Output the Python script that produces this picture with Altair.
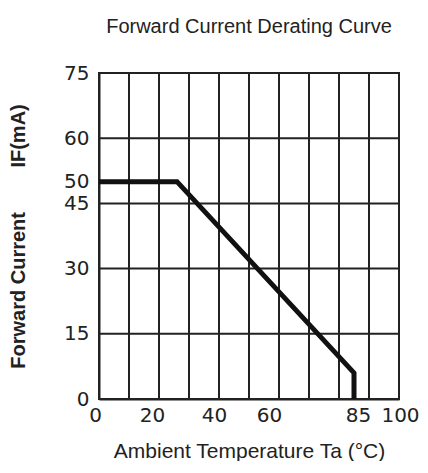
import altair as alt
import pandas as pd

# Data
temp = [0, 26, 85, 85]
current = [50, 50, 6, 0]
x_tick_labels = [0, 20, 40, 60, 85, 100]
y_tick_labels = [0, 15, 30, 45, 50, 60, 75]
x_grid = [0, 10, 20, 30, 40, 50, 60, 70, 80, 90, 100]
y_grid = [0, 15, 30, 45, 60, 75]

line_df = pd.DataFrame({"t": temp, "i": current})
vgrid_df = pd.DataFrame({"t": x_grid})
hgrid_df = pd.DataFrame({"i": y_grid})

xs = alt.Scale(domain=[0, 100], nice=False, zero=False)
ys = alt.Scale(domain=[0, 75], nice=False, zero=False)

FONT = "DejaVu Sans"
TFONT = "Liberation Sans"
TXT = "#222222"
NB = "\u00a0"

x_label_offset = {
    "condition": [
        {"test": "datum.value == 0", "value": -4},
        {"test": "datum.value == 20", "value": -7},
        {"test": "datum.value == 40", "value": -5},
        {"test": "datum.value == 60", "value": -10},
        {"test": "datum.value == 85", "value": 4},
        {"test": "datum.value == 100", "value": 1},
    ],
    "value": 0,
}

x_axis = alt.Axis(
    values=x_tick_labels, grid=False, ticks=False, domain=True,
    domainColor="#222", domainWidth=2,
    labelFont=FONT, labelFontSize=20, labelColor=TXT, labelPadding=6,
    labelOffset=x_label_offset, labelOverlap=False, labelBound=False,
    labelFlush=False,
    title="Ambient Temperature Ta (°C)", titleFont=TFONT,
    titleFontSize=21, titleFontWeight="normal", titleColor=TXT, titlePadding=15,
)
y_axis = alt.Axis(
    values=y_tick_labels, grid=False, ticks=False, domain=True,
    domainColor="#222", domainWidth=2,
    labelFont=FONT, labelFontSize=20, labelColor=TXT, labelPadding=10,
    labelOverlap=False, labelBound=False, labelFlush=False,
    title="Forward Current" + NB * 8 + "IF(mA)", titleFont=TFONT,
    titleFontSize=20, titleFontWeight="bold", titleColor=TXT, titlePadding=35,
)

vgrid = alt.Chart(vgrid_df).mark_rule(color="#222", strokeWidth=2).encode(
    x=alt.X("t:Q", scale=xs, axis=x_axis)
)
hgrid = alt.Chart(hgrid_df).mark_rule(color="#222", strokeWidth=2).encode(
    y=alt.Y("i:Q", scale=ys, axis=y_axis)
)
line = alt.Chart(line_df).mark_line(color="#111", strokeWidth=5, strokeJoin="miter").encode(
    x=alt.X("t:Q", scale=xs, axis=x_axis),
    y=alt.Y("i:Q", scale=ys, axis=y_axis),
    order=alt.Order("idx:Q"),
).transform_window(idx="row_number()")

chart = alt.layer(vgrid, hgrid, line).properties(
    width=300, height=326,
    autosize=alt.AutoSizeParams(type="none"),
    padding={"left": 91, "top": 65, "right": 20, "bottom": 62},
    title=alt.TitleParams(
        "Forward Current Derating Curve", font=TFONT, fontSize=20,
        fontWeight="normal", color=TXT, anchor="middle", offset=26,
    ),
).configure_view(stroke="#222", strokeWidth=2)

chart.save("out.html", embed_options={"renderer": "svg", "actions": False})
